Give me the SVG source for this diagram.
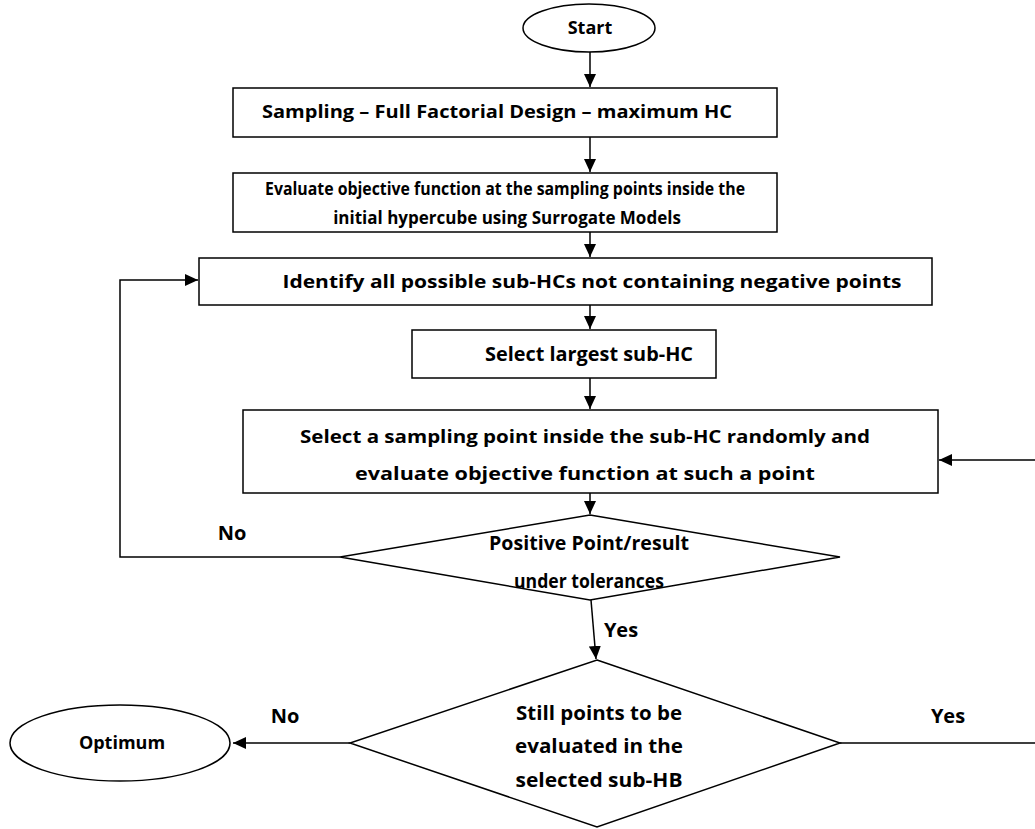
<svg xmlns="http://www.w3.org/2000/svg" width="1035" height="829" viewBox="0 0 1035 829">
<style>
.s{fill:#fff;stroke:#000;stroke-width:1.5}
.t{font-family:"Open Sans","Liberation Sans",sans-serif;font-weight:700;font-size:18px;fill:#000;text-anchor:middle}
.c{font-family:"Open Sans","Liberation Sans",sans-serif;font-weight:700;font-size:20px;fill:#000;text-anchor:middle}
.l{fill:none;stroke:#000;stroke-width:1.5}
</style>
<defs>
<marker id="a" markerUnits="userSpaceOnUse" markerWidth="14" markerHeight="12" refX="13" refY="6" orient="auto">
<path d="M0,0 L13,6 L0,12 Z" fill="#000"/>
</marker>
</defs>
<g id="connectors">
<path class="l" d="M590,52 V87" marker-end="url(#a)"/>
<path class="l" d="M590,137 V172" marker-end="url(#a)"/>
<path class="l" d="M590,220 V257" marker-end="url(#a)"/>
<path class="l" d="M590,305 V329" marker-end="url(#a)"/>
<path class="l" d="M590,378 V409" marker-end="url(#a)"/>
<path class="l" d="M590,493 V514" marker-end="url(#a)"/>
<path class="l" d="M340,557 H120 V280 H198" marker-end="url(#a)"/>
<path class="l" d="M591,600 L596,659" marker-end="url(#a)"/>
<path class="l" d="M350,743 H233" marker-end="url(#a)"/>
<path class="l" d="M840,743 H1040 V460 H939" marker-end="url(#a)"/>
</g>
<g id="start">
<ellipse class="s" cx="589" cy="28" rx="66" ry="24"/>
<text class="t" x="590" y="34">Start</text>
</g>
<g id="sampling">
<rect class="s" x="233" y="88" width="544" height="49"/>
<text class="t" x="497" y="118" textLength="470" lengthAdjust="spacingAndGlyphs">Sampling – Full Factorial Design – maximum HC</text>
</g>
<g id="evaluate">
<rect class="s" x="233" y="173" width="544" height="59"/>
<text class="t" x="505" y="195" style="font-size:17px" textLength="480" lengthAdjust="spacingAndGlyphs">Evaluate objective function at the sampling points inside the</text>
<text class="t" x="507" y="224" style="font-size:17px">initial hypercube using Surrogate Models</text>
</g>
<g id="identify">
<rect class="s" x="199" y="258" width="733" height="47"/>
<text class="t" x="592" y="288" textLength="619" lengthAdjust="spacingAndGlyphs">Identify all possible sub-HCs not containing negative points</text>
</g>
<g id="largest">
<rect class="s" x="412" y="330" width="304" height="48"/>
<text class="t" x="589" y="361" style="font-size:19px" textLength="208" lengthAdjust="spacingAndGlyphs">Select largest sub-HC</text>
</g>
<g id="select-point">
<rect class="s" x="243" y="410" width="695" height="83"/>
<text class="t" x="585" y="443" textLength="570" lengthAdjust="spacingAndGlyphs">Select a sampling point inside the sub-HC randomly and</text>
<text class="t" x="585" y="480" textLength="460" lengthAdjust="spacingAndGlyphs">evaluate objective function at such a point</text>
</g>
<g id="positive">
<polygon class="s" points="590,515 840,557 590,600 340,557"/>
<text class="t" x="589" y="550" style="font-size:19px" textLength="200" lengthAdjust="spacingAndGlyphs">Positive Point/result</text>
<text class="t" x="589" y="588" style="font-size:19px" textLength="150" lengthAdjust="spacingAndGlyphs">under tolerances</text>
</g>
<g id="still">
<polygon class="s" points="597,660 840,743 597,827 350,743"/>
<text class="c" x="599" y="720" textLength="166" lengthAdjust="spacingAndGlyphs">Still points to be</text>
<text class="c" x="599" y="753" textLength="168" lengthAdjust="spacingAndGlyphs">evaluated in the</text>
<text class="c" x="599" y="787" textLength="167" lengthAdjust="spacingAndGlyphs">selected sub-HB</text>
</g>
<g id="optimum">
<ellipse class="s" cx="120" cy="743" rx="110" ry="38"/>
<text class="t" x="122" y="749">Optimum</text>
</g>
<g id="labels">
<text class="c" x="232" y="540">No</text>
<text class="c" x="285" y="723">No</text>
<text class="c" x="621" y="637">Yes</text>
<text class="c" x="948" y="723">Yes</text>
</g>
</svg>
